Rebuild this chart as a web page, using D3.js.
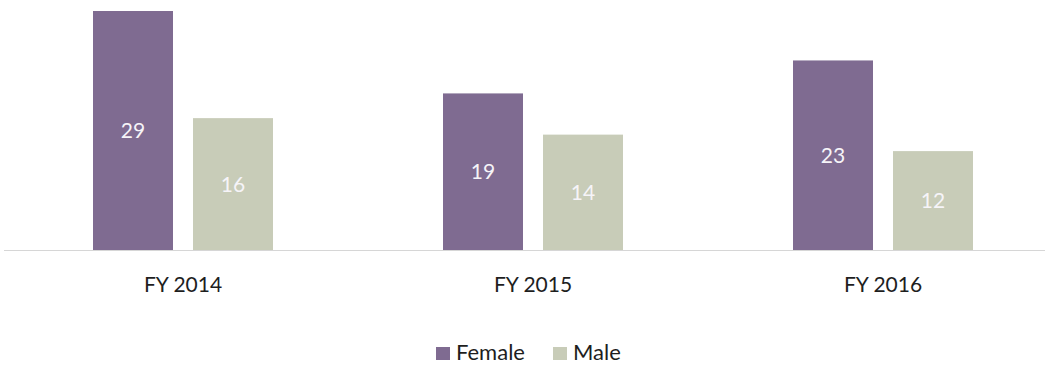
<!DOCTYPE html>
<html>
<head>
<meta charset="utf-8">
<script src="https://cdn.jsdelivr.net/npm/d3@7"></script>
<style>
  html, body { margin: 0; padding: 0; background: #ffffff; }
  svg { display: block; }
  text { font-family: Lato, "Open Sans", sans-serif; }
</style>
</head>
<body>
<svg id="chart" width="1045" height="366"></svg>
<script>
// Counts by fiscal year and gender
const years = ["FY 2014", "FY 2015", "FY 2016"];
const seriesNames = ["Female", "Male"];
const female = [29, 19, 23];
const male = [16, 14, 12];
const colors = ["#7f6b91", "#c8ccb8"];

const width = 1045, height = 366;
const baseline = 250;
const topY = 11;

const svg = d3.select("#chart");

const x = d3.scaleBand().domain(years).range([8, 1058]).paddingInner(0).paddingOuter(0);
const xInner = d3.scaleBand().domain(seriesNames).range([85, 265]).paddingInner(0.2);
const y = d3.scaleLinear().domain([0, 29]).range([baseline, topY]);

const rows = years.map((yr, i) => ({ year: yr, values: [female[i], male[i]] }));

// Baseline
svg.append("line")
  .attr("x1", 4).attr("x2", width)
  .attr("y1", baseline + 0.5).attr("y2", baseline + 0.5)
  .attr("stroke", "#d6d6d6").attr("stroke-width", 1.2);

const groups = svg.selectAll("g.year").data(rows).join("g")
  .attr("class", "year")
  .attr("transform", d => `translate(${x(d.year)},0)`);

groups.selectAll("rect").data(d => d.values.map((v, j) => ({ v, s: seriesNames[j], j })))
  .join("rect")
  .attr("x", d => xInner(d.s))
  .attr("width", xInner.bandwidth())
  .attr("y", d => y(d.v))
  .attr("height", d => baseline - y(d.v))
  .attr("fill", d => colors[d.j]);

groups.selectAll("text.val").data(d => d.values.map((v, j) => ({ v, s: seriesNames[j], j })))
  .join("text")
  .attr("class", "val")
  .attr("x", d => xInner(d.s) + xInner.bandwidth() / 2)
  .attr("y", d => (y(d.v) + baseline) / 2)
  .attr("dy", "0.36em")
  .attr("text-anchor", "middle")
  .attr("font-size", 21)
  .attr("fill", "#f6f4f8")
  .text(d => d.v);

// Category axis labels
const xAxis = d3.axisBottom(x).tickSize(0).tickPadding(0);
const axisG = svg.append("g").attr("transform", `translate(0,${baseline})`).call(xAxis);
axisG.select(".domain").remove();
axisG.selectAll("text")
  .attr("y", 42)
  .attr("dy", 0)
  .attr("font-size", 21)
  .attr("font-family", "Lato, 'Open Sans', sans-serif")
  .attr("fill", "#1e1e1e");

// Legend
const legend = svg.append("g").attr("transform", "translate(436,360)");
const legendPos = [0, 117];
seriesNames.forEach((name, i) => {
  const g = legend.append("g").attr("transform", `translate(${legendPos[i]},0)`);
  g.append("rect").attr("x", 0).attr("y", -13).attr("width", 14).attr("height", 13).attr("fill", colors[i]);
  g.append("text").attr("x", 20).attr("y", 0)
    .attr("font-size", 22).attr("fill", "#1e1e1e").text(name);
});
</script>
</body>
</html>
